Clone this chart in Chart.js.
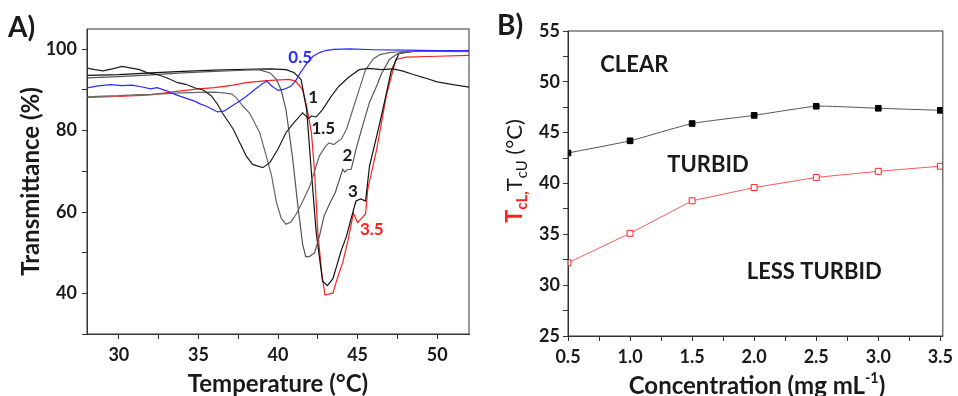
<!DOCTYPE html>
<html>
<head>
<meta charset="utf-8">
<script src="https://cdn.jsdelivr.net/npm/chart.js@4.4.1/dist/chart.umd.min.js"></script>
<style>
  html, body { margin: 0; padding: 0; background: #fff; }
  #wrap { position: relative; width: 958px; height: 396px; overflow: hidden; font-family: Lato, sans-serif; color: #1a1a1a; }
  #chartA { position: absolute; left: 0; top: 0; }
  #chartB { position: absolute; left: 480px; top: 0; }
  .tag { position: absolute; font-weight: 700; font-size: 28px; line-height: 1; }
  #ytB { position: absolute; left: 516px; top: 171px; transform: translate(-50%, -50%) rotate(-90deg); white-space: nowrap; font-size: 22px; line-height: 1; }
  #ytB .red { color: #ff1f1f; font-weight: 700; }
  #ytB sub { font-size: 0.68em; vertical-align: -0.3em; }
  #xtB { position: absolute; left: 757px; top: 384px; transform: translate(-50%, -50%); white-space: nowrap; font-size: 24px; font-weight: 700; line-height: 1; }
  #xtB sup { font-size: 0.6em; vertical-align: 0.7em; }
</style>
</head>
<body>
<div id="wrap">
  <canvas id="chartA" width="480" height="396"></canvas>
  <canvas id="chartB" width="478" height="396"></canvas>
  <div class="tag" style="left:8px;top:12px">A)</div>
  <div class="tag" style="left:497px;top:10px">B)</div>
  <div id="ytB"><span class="red">T<sub>cL,</sub></span>T<sub>cU</sub> (°C)</div>
  <div id="xtB">Concentration (mg mL<sup>-1</sup>)</div>
</div>
<script>
// ---- panel A: transmittance vs temperature, one curve per concentration ----
const curveNames = ['0.5', '1', '1.5', '2', '3', '3.5'];

const temp05 = [28, 28.7, 29.5, 30.2, 30.8, 31.4, 32, 32.4, 33, 33.6, 34.2, 34.8, 35.1, 35.5, 35.9, 36.2, 36.6, 37, 37.6, 38, 38.5, 39, 39.3, 39.6, 40, 40.4, 40.8, 41.1, 41.4, 41.8, 42.2, 42.6, 43, 43.5, 44.5, 46, 48, 50, 52];
const trans05 = [90.5, 91, 91.3, 91.1, 91.2, 90.8, 90.3, 90.6, 89.8, 88.8, 88, 87.2, 86.6, 86, 85.2, 84.6, 84.8, 85.8, 87.3, 88.4, 90, 91.5, 92.2, 91, 89.9, 90.2, 90.9, 92.2, 94.2, 96.5, 98.3, 99.2, 99.7, 100, 100.1, 99.9, 99.8, 99.7, 99.7];

const temp10 = [28, 28.5, 29, 29.6, 30.2, 30.8, 31.3, 31.8, 32.4, 33, 33.7, 34.2, 34.8, 35.3, 35.8, 36.2, 36.5, 37.2, 37.6, 38, 38.4, 39.05, 39.5, 40, 40.5, 41, 41.55, 41.9, 42.1, 42.4, 42.8, 43.3, 43.8, 44.4, 45.1, 45.7, 46.5, 47.2, 47.8, 48.5, 49.2, 50, 51, 52];
const trans10 = [95.4, 95, 94.7, 95.2, 95.8, 95.4, 95, 94.2, 93.8, 93, 91.8, 91.4, 90.5, 90, 88.6, 86.5, 84.4, 80.3, 77, 73.8, 71.7, 70.9, 72.2, 75.5, 79.5, 82, 84.4, 83, 83.6, 83.4, 85.2, 88.2, 90.8, 93, 95, 95.3, 95, 95.2, 94.7, 93.8, 93, 92, 91.3, 90.7];

const temp15 = [28, 29, 30, 31, 32, 33, 34, 35, 36, 36.6, 37.1, 37.4, 37.8, 38.2, 38.5, 38.85, 39.26, 39.6, 39.9, 40.2, 40.5, 40.8, 41.15, 41.6, 42, 42.6, 43, 43.2, 43.5, 43.97, 44.3, 44.7, 45.1, 45.5, 46, 46.4, 47, 47.6, 48.5, 50, 52];
const trans15 = [88.3, 88.5, 88.6, 88.8, 88.9, 89.1, 89.3, 89.4, 89.5, 89.3, 89, 88, 86, 84.4, 82.2, 79.5, 73.8, 68.9, 62.4, 58.5, 57, 57.5, 59.5, 63, 66.4, 73.8, 76.2, 77, 76.6, 77.9, 80.3, 85.2, 90.1, 95, 97.7, 98.7, 99.2, 99.4, 99.5, 99.5, 99.4];

const temp20 = [28, 30, 32, 34, 36, 37.5, 38.8, 39.5, 39.9, 40.2, 40.5, 40.9, 41.25, 41.55, 41.75, 42, 42.3, 42.6, 42.9, 43.3, 43.6, 44.07, 44.2, 44.35, 44.6, 44.9, 45.3, 45.75, 46.2, 46.5, 47, 47.5, 48.2, 50, 52];
const trans20 = [93, 93.3, 93.7, 94.2, 94.6, 94.8, 95, 94.2, 92.6, 90, 85.2, 73.8, 61.5, 52, 49, 49.1, 50, 54, 59.1, 62.5, 64.8, 70.5, 69.8, 70.4, 70.5, 75.4, 81, 87, 91, 94, 97.5, 98.9, 99.4, 99.6, 99.6];

const temp30 = [28, 30, 32, 34, 36, 38, 39.5, 40.5, 41, 41.45, 41.8, 42.1, 42.4, 42.8, 43.1, 43.45, 43.97, 44.3, 44.7, 44.9, 45.2, 45.5, 45.75, 46.1, 46.4, 46.8, 47.1, 47.6, 48.5, 50, 52];
const trans30 = [93.6, 93.8, 94.2, 94.6, 94.9, 95.1, 95.2, 95, 94.3, 92.6, 85.2, 69.7, 55, 43, 41.9, 43.6, 50.5, 54, 59.9, 62.7, 63.2, 62.7, 71.3, 77, 82, 89, 94.5, 99, 99.5, 99.7, 99.7];

const temp35 = [28, 30, 32, 33.5, 35, 36, 37.2, 38, 39.3, 40.7, 41.1, 41.55, 41.8, 42.1, 42.3, 42.5, 42.75, 42.95, 43.45, 43.75, 44.07, 44.4, 44.74, 45, 45.5, 45.64, 46.2, 46.8, 47.4, 48.05, 50, 52];
const trans35 = [88.2, 88.4, 88.8, 89.6, 90.3, 90.6, 91.2, 91.8, 92.3, 92.6, 92.2, 90.1, 86, 79.5, 69.7, 55, 45, 39.6, 40.1, 44, 47.6, 53, 59.7, 57.4, 59.5, 65.6, 75.4, 88.5, 97.5, 98.1, 98.3, 98.5];

// tick positions (major + minor); labels only on the majors
const tempTicks = [30, 32.5, 35, 37.5, 40, 42.5, 45, 47.5, 50];
const tempLabels = [30, 35, 40, 45, 50];
const transTicks = [30, 40, 50, 60, 70, 80, 90, 100];
const transLabels = [40, 60, 80, 100];

// ---- panel B: phase boundaries vs concentration ----
const concentrations = [0.5, 1.0, 1.5, 2.0, 2.5, 3.0, 3.5];
const tcU = [43.0, 44.2, 45.9, 46.7, 47.6, 47.4, 47.2];
const tcL = [32.2, 35.1, 38.3, 39.6, 40.6, 41.2, 41.7];

const concTicks = [0.5, 0.75, 1.0, 1.25, 1.5, 1.75, 2.0, 2.25, 2.5, 2.75, 3.0, 3.25, 3.5];
const concLabels = [0.5, 1.0, 1.5, 2.0, 2.5, 3.0, 3.5];
const tempBTicks = [25, 27.5, 30, 32.5, 35, 37.5, 40, 42.5, 45, 47.5, 50, 52.5, 55];
const tempBLabels = [25, 30, 35, 40, 45, 50, 55];

const BLUE = '#2b2bff', RED = '#ff2020';
const tickFont = { family: 'Lato', size: 18, weight: 'bold' };
const titleFont = { family: 'Lato', size: 24, weight: 'bold', lineHeight: 1 };
const axisColor = '#333';

const curveColors = [BLUE, '#1e1e1e', '#666', '#555', '#111', RED];
const seriesA = [[temp05, trans05], [temp10, trans10], [temp15, trans15], [temp20, trans20], [temp30, trans30], [temp35, trans35]];

// where the concentration labels sit next to their curves
const curveTags = [
  { text: '0.5', x: 40.65, y: 98.1, color: BLUE },
  { text: '1', x: 41.9, y: 88.2, color: '#1a1a1a' },
  { text: '1.5', x: 42.1, y: 80.6, color: '#1a1a1a' },
  { text: '2', x: 44.05, y: 74, color: '#1a1a1a' },
  { text: '3', x: 44.4, y: 65, color: '#1a1a1a' },
  { text: '3.5', x: 45.15, y: 55.6, color: RED }
];
const regionTags = [
  { text: 'CLEAR', x: 0.76, y: 51.65, color: '#1a1a1a' },
  { text: 'TURBID', x: 1.30, y: 41.8, color: '#1a1a1a' },
  { text: 'LESS TURBID', x: 1.94, y: 31.3, color: '#1a1a1a' }
];

const useTicks = values => s => { s.ticks = values.map(v => ({ value: v })); };
const labelIf = (labels, fmt) => v => labels.some(l => Math.abs(l - v) < 1e-6) ? (fmt ? fmt(v) : v) : '';

const frame = {
  id: 'frame',
  afterDraw(chart) {
    const { ctx, chartArea: a } = chart;
    ctx.save();
    ctx.strokeStyle = axisColor;
    ctx.lineWidth = 1;
    ctx.strokeRect(a.left, a.top, a.right - a.left, a.bottom - a.top);
    ctx.restore();
  }
};

const tagger = tags => ({
  id: 'tags',
  afterDatasetsDraw(chart) {
    const { ctx, scales: { x, y } } = chart;
    ctx.save();
    ctx.textAlign = 'left';
    ctx.textBaseline = 'middle';
    tags.forEach(t => {
      ctx.font = t.font || 'bold 17px Lato';
      ctx.fillStyle = t.color;
      ctx.fillText(t.text, x.getPixelForValue(t.x), y.getPixelForValue(t.y));
    });
    ctx.restore();
  }
});

const axisBase = () => ({
  type: 'linear',
  grid: { drawOnChartArea: false, drawTicks: true, tickLength: 5, color: axisColor },
  border: { display: true, color: axisColor, width: 1 },
  ticks: { color: '#1a1a1a', font: tickFont, autoSkip: false, maxRotation: 0, padding: 4 }
});

new Chart(document.getElementById('chartA'), {
  type: 'line',
  data: {
    datasets: seriesA.map(([xs, ys], i) => ({
      label: curveNames[i],
      data: xs.map((x, j) => ({ x, y: ys[j] })),
      borderColor: curveColors[i],
      borderWidth: 1.2,
      pointRadius: 0,
      tension: 0
    }))
  },
  options: {
    responsive: false, animation: false,
    layout: { padding: { top: 29, right: 11, left: 0, bottom: 0 } },
    plugins: { legend: { display: false }, tooltip: { enabled: false } },
    scales: {
      x: {
        ...axisBase(), min: 28, max: 52,
        afterBuildTicks: useTicks(tempTicks),
        afterFit: s => { s.height = 62; },
        ticks: { ...axisBase().ticks, padding: 5, callback: labelIf(tempLabels) },
        title: { display: true, text: 'Temperature (°C)', color: '#1a1a1a', font: titleFont, padding: { top: 0, bottom: 0 } }
      },
      y: {
        ...axisBase(), min: 30, max: 105,
        afterBuildTicks: useTicks(transTicks),
        afterFit: s => { s.width = 87; },
        ticks: { ...axisBase().ticks, padding: 5, callback: labelIf(transLabels) },
        title: { display: true, text: 'Transmittance (%)', color: '#1a1a1a', font: titleFont, padding: { top: 19, bottom: 0 } }
      }
    }
  },
  plugins: [frame, tagger(curveTags)]
});

new Chart(document.getElementById('chartB'), {
  type: 'line',
  data: {
    datasets: [
      {
        label: 'TcU', data: concentrations.map((c, i) => ({ x: c, y: tcU[i] })),
        borderColor: '#555', borderWidth: 1, tension: 0.15,
        pointStyle: 'rect', pointRadius: 4, pointBackgroundColor: '#000', pointBorderColor: '#000', pointBorderWidth: 1
      },
      {
        label: 'TcL', data: concentrations.map((c, i) => ({ x: c, y: tcL[i] })),
        borderColor: '#ff5a5a', borderWidth: 1, tension: 0,
        pointStyle: 'rect', pointRadius: 4.2, pointBackgroundColor: '#fff', pointBorderColor: RED, pointBorderWidth: 1
      }
    ]
  },
  options: {
    responsive: false, animation: false,
    layout: { padding: { top: 31, right: 11, left: 0, bottom: 0 } },
    plugins: { legend: { display: false }, tooltip: { enabled: false } },
    scales: {
      x: {
        ...axisBase(), min: 0.5, max: 3.52,
        afterBuildTicks: useTicks(concTicks),
        afterFit: s => { s.height = 60; },
        ticks: { ...axisBase().ticks, padding: 5, callback: labelIf(concLabels, v => v.toFixed(1)) }
      },
      y: {
        ...axisBase(), min: 25, max: 55,
        afterBuildTicks: useTicks(tempBTicks),
        afterFit: s => { s.width = 88; },
        ticks: { ...axisBase().ticks, padding: 3, callback: labelIf(tempBLabels) }
      }
    }
  },
  plugins: [frame, tagger(regionTags.map(t => ({ ...t, font: 'bold 22px Lato' })))]
});
</script>
</body>
</html>
